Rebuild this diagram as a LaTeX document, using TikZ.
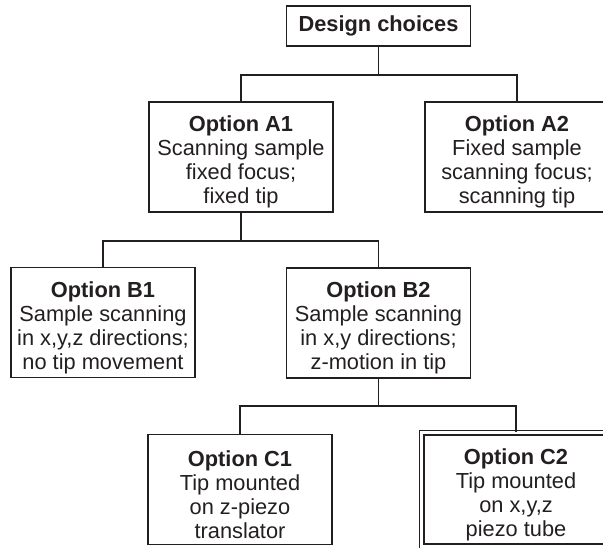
\documentclass[tikz,border=0pt]{standalone}
\usepackage{fontspec}
\setmainfont{Liberation Sans}
\definecolor{ink}{RGB}{35,31,32}
\newcommand{\opt}[1]{\rule{0pt}{13pt}\textbf{Option #1}}

\begin{document}
\begin{tikzpicture}[x=0.5pt, y=-0.5pt, ink, line width=0.75pt,
		choice/.style={draw, align=center, inner sep=0pt, minimum width=92pt,
				minimum height=55pt, font=\fontsize{10.9}{12}\selectfont},
		headbox/.style={choice, minimum height=20pt, font=\fontsize{10.9}{12}\selectfont\bfseries},
		framed/.style={choice, double, double distance=1.7pt, line width=0.65pt,
				minimum width=94.4pt, minimum height=56.9pt}]
		\clip (0,0) rectangle (603,547);

		\node[headbox] (top) at (378.5,26) {Design choices};

		\node[choice] (A1) at (241,157) {\opt{A1}\\Scanning sample\\fixed focus;\\fixed tip};
		\node[choice] (A2) at (517,157) {\opt{A2}\\Fixed sample\\scanning focus;\\scanning tip};

		\node[choice] (B1) at (103,322.5) {\opt{B1}\\Sample scanning\\in x,y,z directions;\\no tip movement};
		\node[choice] (B2) at (378.5,323) {\opt{B2}\\Sample scanning\\in x,y directions;\\z-motion in tip};

		\node[choice] (C1) at (240,489.5) {\opt{C1}\\Tip mounted\\on z-piezo\\translator};
		\node[framed] (C2) at (516,489.5) {\opt{C2}\\Tip mounted\\on x,y,z\\piezo tube};

		\draw (top.south) -- ++(0,28) coordinate (busA);
		\draw (A1.north) |- (busA) -| (A2.north);

		\draw (A1.south) -- ++(0,28) coordinate (busB);
		\draw (B1.north) |- (busB) -| (B2.north);

		\draw (B2.south) -- ++(0,27) coordinate (busC);
		\draw (C1.north) |- (busC) -| (C2.north);
	\end{tikzpicture}
\end{document}
